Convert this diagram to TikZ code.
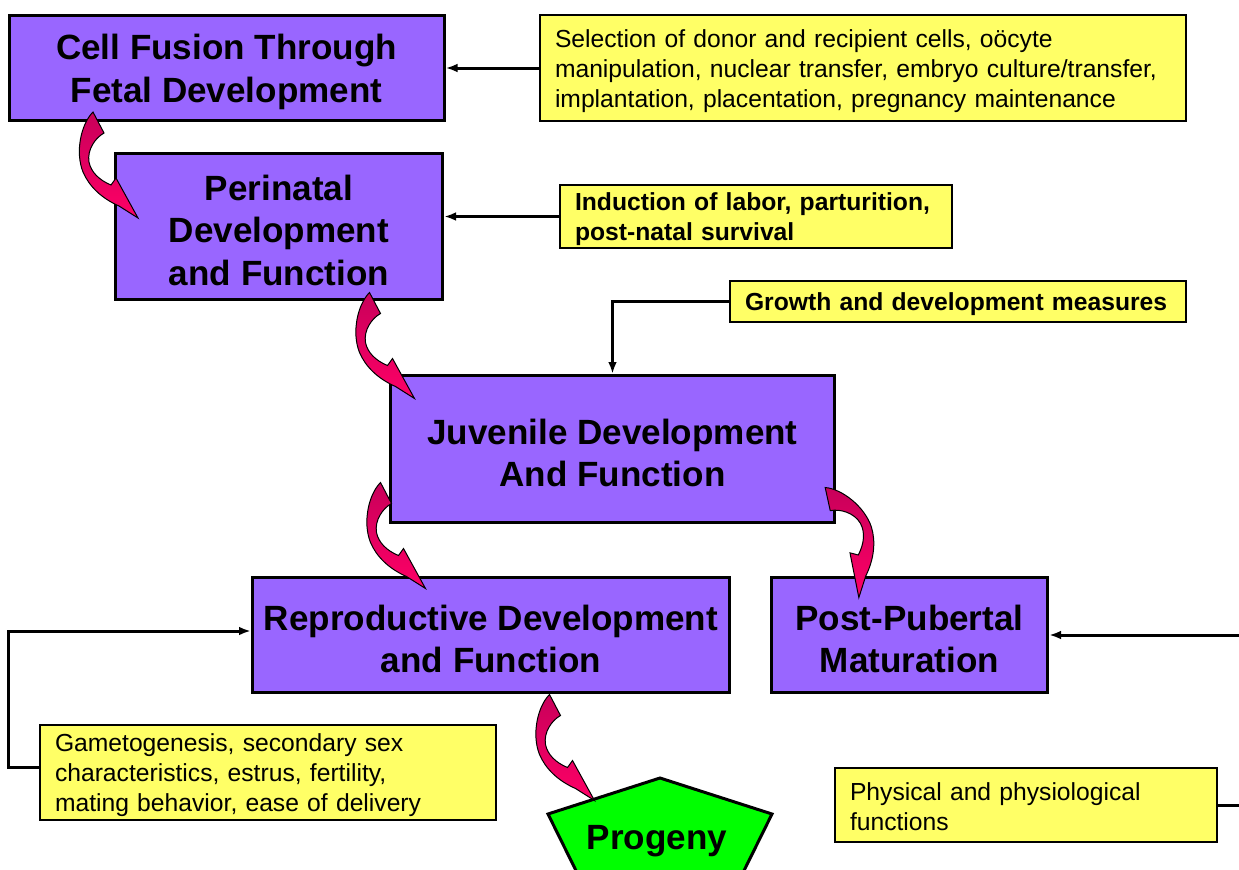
\documentclass[tikz,border=0pt]{standalone}
\usepackage{fontspec}
\setmainfont{Liberation Sans}
\usetikzlibrary{arrows.meta}
\definecolor{stagepurple}{RGB}{153,102,255}
\definecolor{noteyellow}{RGB}{255,255,102}
\definecolor{progenygreen}{RGB}{0,255,0}
\definecolor{bendtail}{RGB}{200,0,90}
\definecolor{bendhead}{RGB}{255,0,102}
\newcommand{\stagefont}{\fontsize{26.3}{32}\selectfont\bfseries}
\newcommand{\notefont}{\fontsize{18.5}{22.5}\selectfont}
% fat bent arrow, tail centre at the origin
\newcommand{\bendarrow}{\shadedraw[fatbend] (-6,-10) .. controls (-18,2) and (-24,30) .. (-16,50)
  .. controls (-10,64) and (2,76) .. (20,84) -- (39,96) -- (17,56) -- (12,63)
  .. controls (0,58) and (-8,50) .. (-10,40) .. controls (-12,28) and (-4,16) .. (5,11) -- cycle;}

\begin{document}
\begin{tikzpicture}[x=0.75pt, y=-0.75pt,
    stage/.style={draw, fill=stagepurple, line width=2.25pt, align=center, inner sep=0pt, text height=56.5pt, text depth=0pt, font=\stagefont},
    note/.style={draw, fill=noteyellow, line width=2pt, align=left, inner xsep=11.25pt, inner ysep=0pt, font=\notefont},
    link/.style={line width=2.25pt, -{Latex[length=9pt,width=6.5pt]}},
    fatbend/.style={draw=black, line width=0.75pt, top color=bendtail, bottom color=bendhead}]

    \useasboundingbox (0,0) rectangle (1239,869);

    % Etapas
    \node[stage, text height=51.5pt, minimum width=326.25pt, minimum height=78.75pt] (fusion) at (226.5,68) {Cell Fusion Through\\Fetal Development};
    \node[stage, text height=88.5pt, minimum width=245.25pt, minimum height=109.5pt] (peri) at (279,226.5) {Perinatal\\Development\\and Function};
    \node[stage, minimum width=333pt, minimum height=110.25pt] (juvenile) at (612.5,449) {Juvenile Development\\And Function};
    \node[stage, minimum width=357.75pt, minimum height=86.25pt] (repro) at (491,635) {Reproductive Development\\and Function};
    \node[stage, minimum width=207pt, minimum height=86.25pt] (post) at (909.5,635) {Post-Pubertal\\Maturation};

    % Notas
    \node[note, text depth=44.4pt, text width=462pt, minimum height=79.5pt] (sel) at (863,68) {Selection of donor and recipient cells, oöcyte\\manipulation, nuclear transfer, embryo culture/transfer,\\implantation, placentation, pregnancy maintenance};
    \node[note, font=\notefont\bfseries, text depth=21.9pt, text width=271.5pt, minimum height=47.25pt] (induct) at (756,216.5) {Induction of labor, parturition,\\post-natal survival};
    \node[note, font=\notefont\bfseries, text depth=-0.6pt, text width=319.5pt, minimum height=30.75pt] (growth) at (958,301.5) {Growth and development measures};
    \node[note, text depth=44.4pt, text width=319.5pt, minimum height=71.25pt] (gameto) at (268,772.5) {Gametogenesis, secondary sex\\characteristics, estrus, fertility,\\mating behavior, ease of delivery};
    \node[note, text depth=19.5pt, text width=264pt, minimum height=55.5pt] (phys) at (1026,805) {Physical and physiological\\functions};

    % Progenie
    \draw[fill=progenygreen, line width=2.25pt] (660,778) -- (772,814) -- (727,905) -- (593,905) -- (548,814) -- cycle;
    \node[font=\stagefont] (progeny) at (657,841) {Progeny};

    % Flechas
    \draw[link] (sel.west) -- (fusion.east);
    \draw[link] (induct.west) -- (induct.west -| peri.east);
    \draw[link] (growth.west) -| (juvenile.north);
    \draw[link] ([yshift=3.5pt]gameto.west) -- ++(-30,0) |- ([yshift=3pt]repro.west);
    \draw[link] (phys.east) -- ++(40,0) |- (post.east);

    \begin{scope}[shift={([shift={(91.5,0)}]fusion.south west)}] \bendarrow \end{scope}
    \begin{scope}[shift={([shift={(261.5,1.5)}]peri.south west)}] \bendarrow \end{scope}
    \begin{scope}[shift={([shift={(-2.5,-31.5)}]juvenile.south west)}] \bendarrow \end{scope}
    \begin{scope}[shift={([shift={(304.5,10.5)}]repro.south west)}] \bendarrow \end{scope}
    \begin{scope}[shift={([shift={(-9,-25)}]juvenile.south east)}, rotate=40, xscale=-1] \bendarrow \end{scope}
\end{tikzpicture}
\end{document}
